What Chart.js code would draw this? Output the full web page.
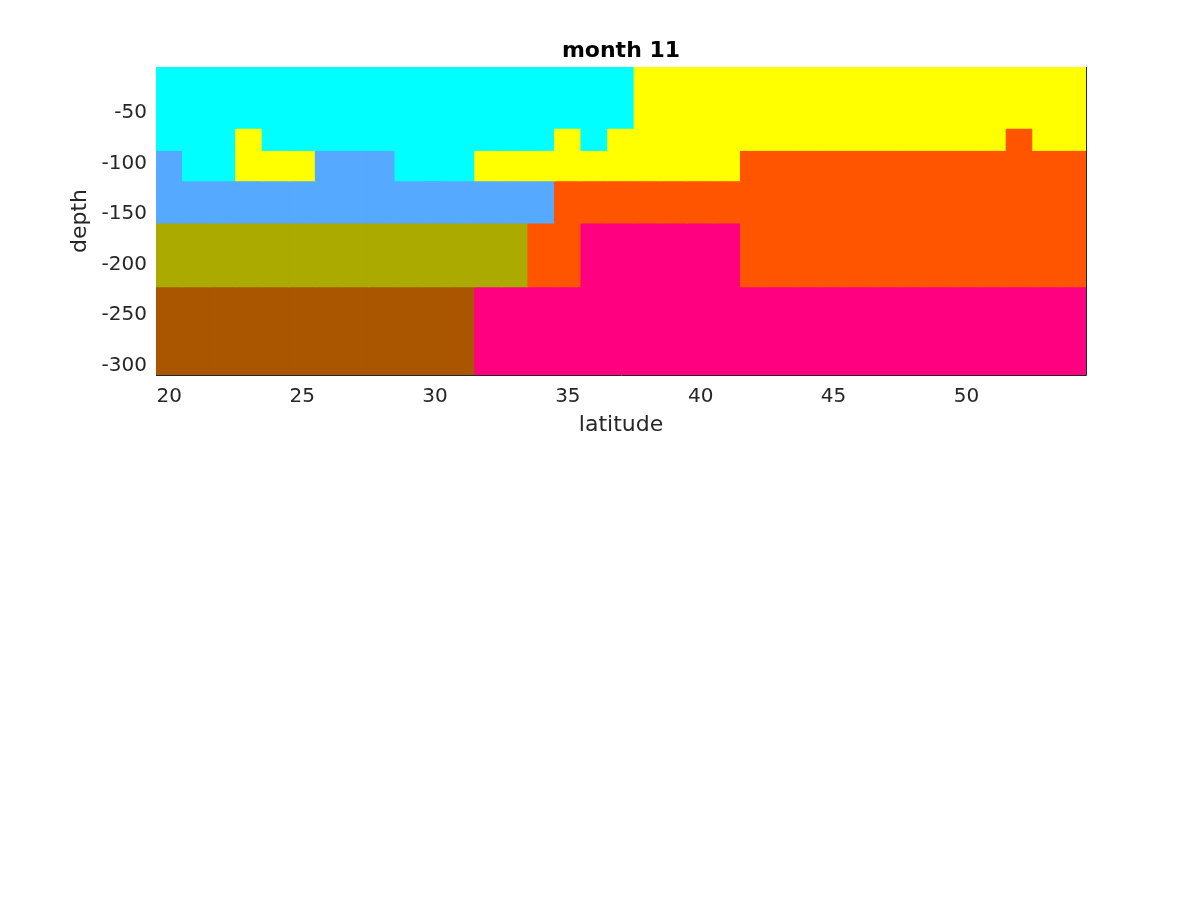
<!DOCTYPE html>
<html>
<head>
<meta charset="utf-8">
<script src="https://cdn.jsdelivr.net/npm/chart.js@4.4.1/dist/chart.umd.min.js"></script>
<style>
  html, body { margin: 0; padding: 0; background: #fff; }
  #wrap { width: 1200px; height: 900px; }
</style>
</head>
<body>
<div id="wrap"><canvas id="chart" width="1200" height="900"></canvas></div>
<script>
// latitude columns and depth layer edges (top -> bottom)
var latitudes = [20, 21, 22, 23, 24, 25, 26, 27, 28, 29, 30, 31, 32, 33, 34, 35, 36, 37,
                 38, 39, 40, 41, 42, 43, 44, 45, 46, 47, 48, 49, 50, 51, 52, 53, 54];
var depthEdges = [-4.5, -65, -87, -117, -159, -222, -309.5];
var latTicks = [20, 25, 30, 35, 40, 45, 50];
var depthTicks = [-300, -250, -200, -150, -100, -50];

// class colours: 0 cyan, 1 yellow, 2 blue, 3 olive, 4 orange, 5 brown, 6 pink
var classColors = ['#00ffff', '#ffff00', '#55aaff', '#aaaa00', '#ff5500', '#aa5500', '#ff0080'];

// class per latitude for each depth layer
var layer1 = [0,0,0,0,0,0,0,0,0,0,0,0,0,0,0,0,0,0, 1,1,1,1,1,1,1,1,1,1,1,1,1,1,1,1,1];
var layer2 = [0,0,0,1,0,0,0,0,0,0,0,0,0,0,0,1,0,1, 1,1,1,1,1,1,1,1,1,1,1,1,1,1,4,1,1];
var layer3 = [2,0,0,1,1,1,2,2,2,0,0,0,1,1,1,1,1,1, 1,1,1,1,4,4,4,4,4,4,4,4,4,4,4,4,4];
var layer4 = [2,2,2,2,2,2,2,2,2,2,2,2,2,2,2,4,4,4, 4,4,4,4,4,4,4,4,4,4,4,4,4,4,4,4,4];
var layer5 = [3,3,3,3,3,3,3,3,3,3,3,3,3,3,4,4,6,6, 6,6,6,6,4,4,4,4,4,4,4,4,4,4,4,4,4];
var layer6 = [5,5,5,5,5,5,5,5,5,5,5,5,6,6,6,6,6,6, 6,6,6,6,6,6,6,6,6,6,6,6,6,6,6,6,6];
var layers = [layer1, layer2, layer3, layer4, layer5, layer6];

var textColor = '#262626';
Chart.defaults.font.family = '"DejaVu Sans", sans-serif';

var datasets = layers.map(function(row, i) {
    return {
        label: 'layer ' + (i + 1),
        data: row.map(function() { return [depthEdges[i + 1], depthEdges[i]]; }),
        backgroundColor: row.map(function(c) { return classColors[c]; }),
        borderWidth: 0,
        borderSkipped: false,
        inflateAmount: 0.6,
        barPercentage: 1,
        categoryPercentage: 1,
        grouped: false
    };
});

// axis box lines (bottom and right), drawn over the cells
var boxLines = {
    id: 'boxLines',
    afterDatasetsDraw(chart) {
        var ctx = chart.ctx, a = chart.chartArea;
        ctx.save();
        ctx.strokeStyle = textColor;
        ctx.lineWidth = 1;
        ctx.beginPath();
        ctx.moveTo(a.left, a.bottom + 0.5);
        ctx.lineTo(a.right + 0.5, a.bottom + 0.5);
        ctx.lineTo(a.right + 0.5, a.top);
        ctx.stroke();
        ctx.restore();
    }
};

var ctx = document.getElementById('chart').getContext('2d');
var chart = new Chart(ctx, {
    type: 'bar',
    data: { labels: latitudes, datasets: datasets },
    options: {
        responsive: false,
        animation: false,
        layout: { padding: { left: 0, right: 114, top: 0, bottom: 450 } },
        plugins: {
            legend: { display: false },
            tooltip: { enabled: false },
            title: {
                display: true,
                text: 'month 11',
                color: '#000',
                fullSize: false,
                font: { size: 22, weight: 'bold' },
                padding: { top: 37.6, bottom: 3 }
            }
        },
        scales: {
            x: {
                type: 'category',
                offset: true,
                grid: { display: false, drawTicks: false },
                border: { display: false },
                ticks: {
                    autoSkip: false,
                    maxRotation: 0,
                    padding: 10,
                    color: textColor,
                    font: { size: 20 },
                    callback: function(v) {
                        var lat = latitudes[v];
                        return latTicks.indexOf(lat) >= 0 ? String(lat) : '';
                    }
                },
                title: {
                    display: true,
                    text: 'latitude',
                    color: textColor,
                    font: { size: 22 },
                    padding: { top: 0, bottom: 12 }
                },
                afterFit: function(s) { s.height = 75; }
            },
            y: {
                type: 'linear',
                min: depthEdges[depthEdges.length - 1],
                max: depthEdges[0],
                grid: { display: false, drawTicks: false },
                border: { display: false },
                afterBuildTicks: function(s) {
                    s.ticks = depthTicks.map(function(v) { return { value: v }; });
                },
                ticks: {
                    padding: 9,
                    color: textColor,
                    font: { size: 20 }
                },
                title: {
                    display: true,
                    text: 'depth',
                    color: textColor,
                    font: { size: 22 },
                    padding: { top: 67, bottom: 0 }
                },
                afterFit: function(s) { s.width = 156; }
            }
        }
    },
    plugins: [boxLines]
});
</script>
</body>
</html>
